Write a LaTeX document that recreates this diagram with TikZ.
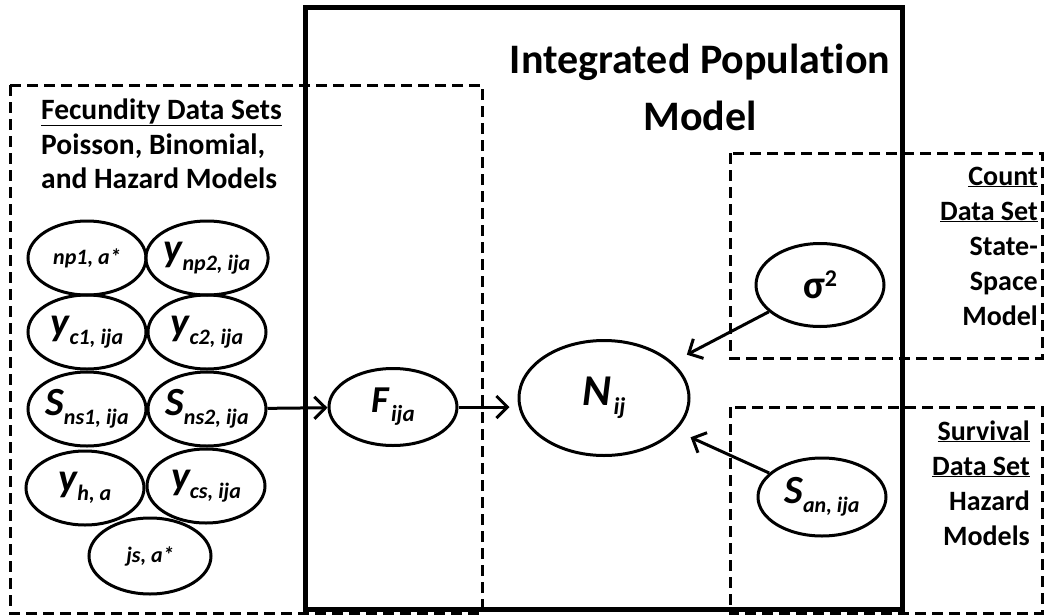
\documentclass[tikz,border=0pt]{standalone}
\usepackage{fontspec}
\setmainfont{Carlito}[Ligatures=CommonOff]
\usetikzlibrary{arrows.meta,shapes.geometric}

\newcommand{\vsub}[2]{{\fontsize{40}{40}\selectfont #1}\raisebox{-9pt}{\fontsize{22}{22}\selectfont #2}}

\tikzset{
  var/.style={draw, ellipse, line width=3pt, inner sep=0pt, minimum width=118pt, minimum height=74pt, font=\bfseries\itshape},
  setbox/.style={line width=3pt, dash pattern=on 11pt off 6pt},
  heading/.style={inner sep=0pt, font=\bfseries\fontsize{28}{34}\selectfont},
  titletext/.style={inner sep=0pt, font=\bfseries\fontsize{42}{42}\selectfont},
  link/.style={line width=3pt, -{Straight Barb[length=11pt, width=22pt]}}
}

\begin{document}
\begin{tikzpicture}[x=1pt, y=-1pt]

\fill[white] (0,0) rectangle (1045,616);
\useasboundingbox (0,0) rectangle (1045,616);

\draw[setbox] (10,85) rectangle (482,613);
\draw[setbox] (730,153) rectangle (1042,358);
\draw[setbox] (730,407) rectangle (1042,613);
\draw[line width=5pt] (305,7) rectangle (902,609);

\node[titletext, anchor=base] (ipm1) at (700,73)  {Integrated Population};
\node[titletext, anchor=base] (ipm2) at (700,130) {Model};

\node[heading, font=\bfseries\fontsize{29.5}{34}\selectfont, anchor=base west] (fec1) at (41,119) {\underline{Fecundity Data Sets}};
\node[heading, font=\bfseries\fontsize{29.5}{34}\selectfont, anchor=base west] (fec2) at (41,154) {Poisson, Binomial,};
\node[heading, font=\bfseries\fontsize{29.5}{34}\selectfont, anchor=base west] (fec3) at (41,188) {and Hazard Models};

\node[heading, anchor=base east] (cnt1) at (1038,185) {\underline{Count}};
\node[heading, anchor=base east] (cnt2) at (1038,220) {\underline{Data Set}};
\node[heading, anchor=base east] (cnt3) at (1038,255) {State-};
\node[heading, anchor=base east] (cnt4) at (1038,290) {Space};
\node[heading, anchor=base east] (cnt5) at (1038,325) {Model};

\node[heading, anchor=base east] (srv1) at (1030,440) {\underline{Survival}};
\node[heading, anchor=base east] (srv2) at (1030,475) {\underline{Data Set}};
\node[heading, anchor=base east] (srv3) at (1030,510) {Hazard};
\node[heading, anchor=base east] (srv4) at (1030,545) {Models};

\node[var] (np1)  at (87,258)  {\fontsize{22}{22}\selectfont np1, a*};
\node[var] (ynp2) at (207,258) {\vsub{y}{np2, ija}};
\node[var] (yc1)  at (87,332)  {\vsub{y}{c1, ija}};
\node[var] (yc2)  at (207,332) {\vsub{y}{c2, ija}};
\node[var] (sns1) at (87,409)  {\vsub{S}{ns1, ija}};
\node[var] (sns2) at (207,409) {\vsub{S}{ns2, ija}};
\node[var] (yh)   at (85,488)  {\vsub{y}{h, a}};
\node[var] (ycs)  at (206,486) {\vsub{y}{cs, ija}};
\node[var, minimum width=122pt, minimum height=76pt] (js) at (150,556) {\fontsize{22}{22}\selectfont js, a*};

\node[var, minimum width=128pt, minimum height=77pt] (F) at (393,407)
  {{\fontsize{38}{38}\selectfont F} \raisebox{-9pt}{\fontsize{23}{23}\selectfont ija}};
\node[var, minimum width=170pt, minimum height=115pt] (N) at (604,398)
  {{\fontsize{44}{44}\selectfont N} \raisebox{-9pt}{\fontsize{24}{24}\selectfont ij}};
\node[var, minimum width=128pt, minimum height=83pt, font=\bfseries] (sigma) at (820,285)
  {{\fontsize{40}{40}\selectfont σ}\raisebox{12pt}{\fontsize{24}{24}\selectfont 2}};
\node[var, minimum width=128pt, minimum height=78pt] (San) at (822,497) {\vsub{S}{an, ija}};

\draw[link] (sns2) -- (F);
\draw[link, shorten >=8pt] (F) -- (F -| N.west);
\draw[link, shorten >=16pt] (sigma) -- (N);
\draw[link, shorten >=16pt] (San) -- (N);

\end{tikzpicture}
\end{document}
